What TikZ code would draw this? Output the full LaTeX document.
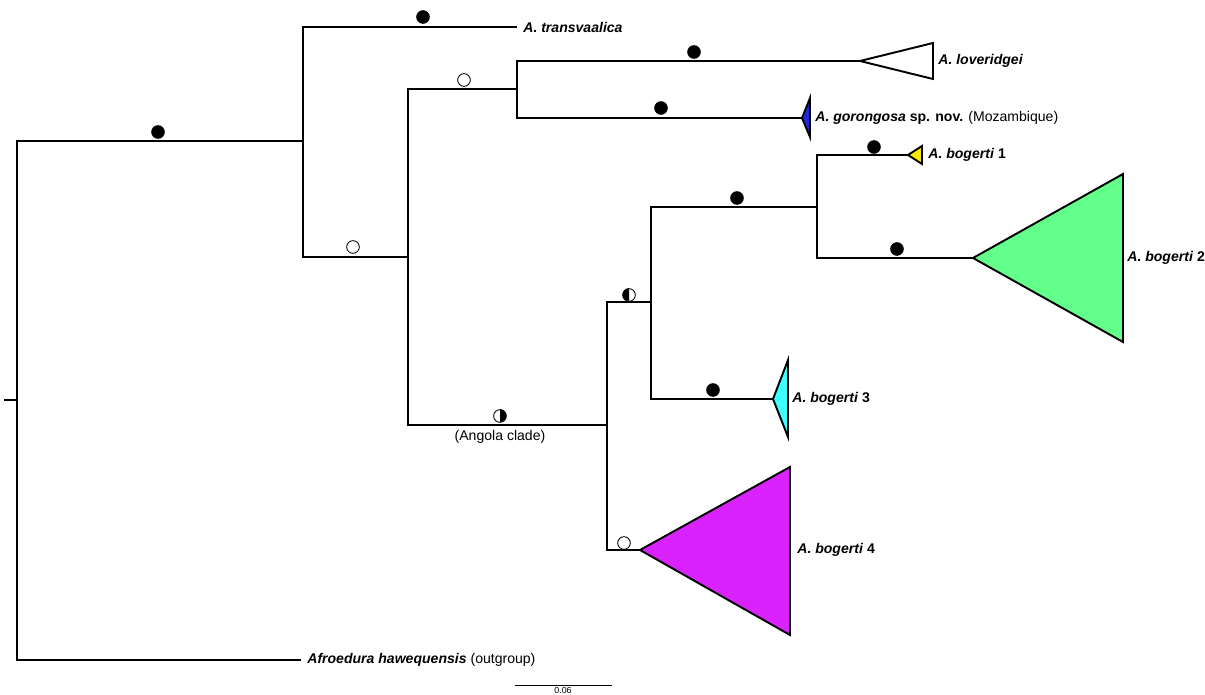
\documentclass[tikz,border=0pt]{standalone}
\usepackage{fontspec}
\setmainfont{Liberation Sans}
\usetikzlibrary{positioning}
\definecolor{bogA}{RGB}{255,235,0}
\definecolor{bogB}{RGB}{98,255,138}
\definecolor{bogC}{RGB}{60,255,255}
\definecolor{bogD}{RGB}{218,34,255}
\definecolor{gorBlue}{RGB}{30,40,220}
\newcommand{\spname}[1]{\textbf{\textit{#1}}}

\begin{document}
\begin{tikzpicture}[
    x=0.02cm, y=-0.02cm,
    branch/.style={line width=1.1pt, line cap=rect},
    clade/.style={draw, line width=1.1pt, line join=miter},
    full/.style={circle, fill=black, draw=black, line width=0.5pt, minimum size=7.2pt, inner sep=0pt},
    empty/.style={circle, fill=white, draw=black, line width=0.5pt, minimum size=7.2pt, inner sep=0pt},
    taxon/.style={anchor=west, inner sep=0pt, font=\fontsize{8}{9}\selectfont},
]
\useasboundingbox (0,0) rectangle (1205,695);

% internal nodes
\coordinate (R) at (17,400);
\coordinate (I) at (303,141);
\coordinate (B) at (408,257);
\coordinate (C) at (517,89);
\coordinate (D) at (607,425);
\coordinate (E) at (651,302);
\coordinate (F) at (817,207);

% tips (triangle apices)
\coordinate (tra) at (516,27);
\coordinate (lov) at (860,61);
\coordinate (gor) at (802,118);
\coordinate (bo1) at (908,155);
\coordinate (bo2) at (973,258);
\coordinate (bo3) at (773,399);
\coordinate (bo4) at (640,550);
\coordinate (out) at (300,660);

% root stub and verticals
\draw[branch] (5,400) -- (R);
\draw[branch] (R |- I) -- (R |- out);
\draw[branch] (I |- tra) -- (I |- B);
\draw[branch] (B |- C) -- (B |- D);
\draw[branch] (C |- lov) -- (C |- gor);
\draw[branch] (D |- E) -- (D |- bo4);
\draw[branch] (E |- F) -- (E |- bo3);
\draw[branch] (F |- bo1) -- (F |- bo2);

% horizontal branches
\draw[branch] (R |- I) -- (I);
\draw[branch] (R |- out) -- (out);
\draw[branch] (I |- tra) -- (tra);
\draw[branch] (I |- B) -- (B);
\draw[branch] (B |- C) -- (C);
\draw[branch] (B |- D) -- (D);
\draw[branch] (C |- lov) -- (lov);
\draw[branch] (C |- gor) -- (gor);
\draw[branch] (D |- E) -- (E);
\draw[branch] (D |- bo4) -- (bo4);
\draw[branch] (E |- F) -- (F);
\draw[branch] (E |- bo3) -- (bo3);
\draw[branch] (F |- bo1) -- (bo1);
\draw[branch] (F |- bo2) -- (bo2);

% collapsed clades
\draw[clade, fill=white] (lov) -- (933,43) -- (933,79) -- cycle;
\draw[clade, fill=gorBlue] (gor) -- (810,98) -- (810,137) -- cycle;
\draw[clade, fill=bogA] (bo1) -- (922,146) -- (922,164) -- cycle;
\draw[clade, fill=bogB] (bo2) -- (1123,174) -- (1123,342) -- cycle;
\draw[clade, fill=bogC] (bo3) -- (788,360) -- (788,437) -- cycle;
\draw[clade, fill=bogD] (bo4) -- (790,467) -- (790,635) -- cycle;

% support values
\node[full] (s1) at (158,132) {};
\node[full] (s2) at (423,17) {};
\node[empty] (s3) at (353,247) {};
\node[empty] (s4) at (464,80) {};
\node[full] (s5) at (694,52) {};
\node[full] (s6) at (661,108) {};
\node[empty] (s7) at (500,416) {};
\fill (s7.north) arc[start angle=90, end angle=-90, radius=3.6pt] -- cycle;
\node[empty] (s8) at (629,295) {};
\fill (s8.north) arc[start angle=90, end angle=270, radius=3.6pt] -- cycle;
\node[full] (s9) at (737,198) {};
\node[full] (s10) at (874,147) {};
\node[full] (s11) at (897,249) {};
\node[full] (s12) at (713,390) {};
\node[empty] (s13) at (624,543) {};

% taxon labels
\node[taxon] (Ltra) at (523,27) {\spname{A. transvaalica}};
\node[taxon] (Llov) at (938,61) {\spname{A. loveridgei}};
\node[taxon] (Lgor) at (815,118) {\spname{A. gorongosa} \textbf{sp. nov.} (Mozambique)};
\node[taxon] (Lbo1) at (928,155) {\spname{A. bogerti} \textbf{1}};
\node[taxon] (Lbo2) at (1127,258) {\spname{A. bogerti} \textbf{2}};
\node[taxon] (Lbo3) at (792,399) {\spname{A. bogerti} \textbf{3}};
\node[taxon] (Lbo4) at (797,550) {\spname{A. bogerti} \textbf{4}};
\node[taxon] (Lout) at (307,660) {\spname{Afroedura hawequensis} (outgroup)};
\node[taxon, anchor=north] (Lang) at (500,430) {(Angola clade)};

% scale bar
\coordinate (sbl) at (515,685);
\coordinate (sbr) at (612,685);
\draw[line width=0.5pt] (sbl) -- (sbr);
\node[anchor=north, inner sep=0pt, font=\fontsize{5}{6}\selectfont] (sbt) at (563,687) {0.06};
\end{tikzpicture}
\end{document}
